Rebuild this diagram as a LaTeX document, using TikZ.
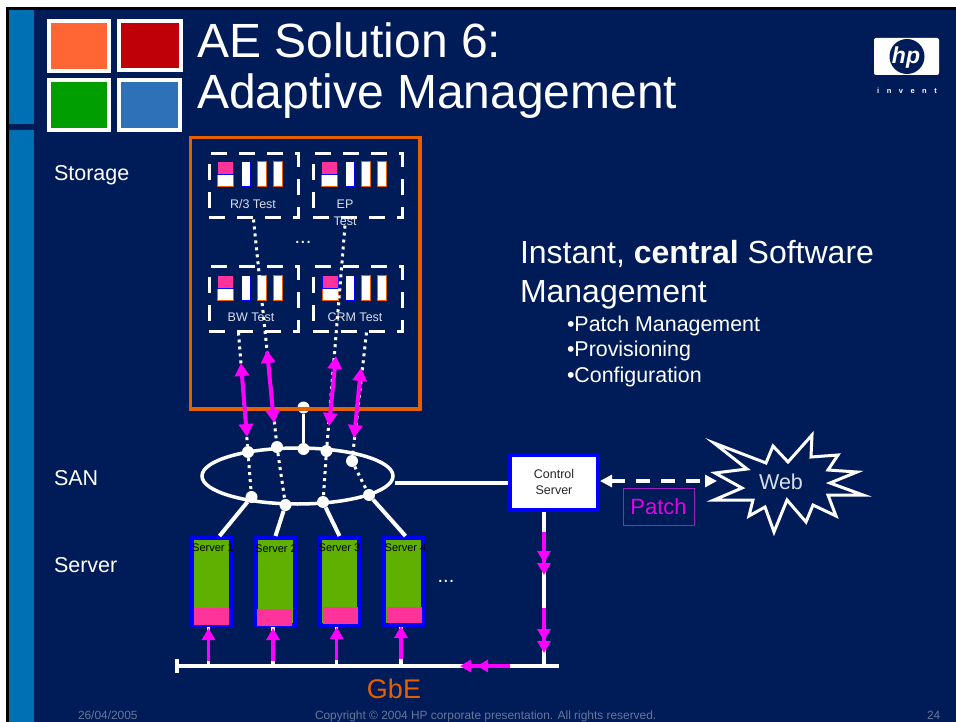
\documentclass[tikz,border=0pt]{standalone}
\usepackage{xcolor}
\usepackage{fontspec}
\setmainfont{Liberation Sans}
\usetikzlibrary{arrows.meta, shapes.geometric}
\definecolor{navy}{HTML}{001C58}
\definecolor{sidebar}{HTML}{0070B5}
\definecolor{hporange}{HTML}{E65F00}
\definecolor{mag}{HTML}{FF00FF}
\definecolor{pinkc}{HTML}{FF3399}
\definecolor{srvgreen}{HTML}{5FB000}
\definecolor{foot}{HTML}{65769A}
\definecolor{pale}{HTML}{D8DDE8}
\definecolor{sqorange}{HTML}{FF6633}
\definecolor{sqred}{HTML}{C00008}
\definecolor{sqgreen}{HTML}{009E00}
\definecolor{sqblue}{HTML}{2E71B8}
\definecolor{patchline}{HTML}{A01EBE}
\tikzset{
	txt/.style={inner sep=0pt, outer sep=0pt, anchor=base west, text=white},
	logo/.style={fill=#1, draw=white, line width=4pt, inner sep=0pt, outer sep=0pt},
	disk/.style={rectangle, draw=#1, fill=white, line width=1pt, inner sep=0pt, minimum width=9pt, minimum height=25pt},
	dashbox/.style={rectangle, draw=white, line width=3pt, dash pattern=on 16pt off 12pt, inner sep=0pt, minimum width=89pt, minimum height=64pt},
	dot/.style={circle, fill=white, inner sep=0pt, minimum size=#1},
	dotted line/.style={draw=white, line width=3pt, dash pattern=on 3pt off 4pt},
	wire/.style={draw=white, line width=3.5pt},
	srv/.style={rectangle, draw=blue, fill=srvgreen, line width=4pt, inner sep=0pt, minimum width=39pt, minimum height=87pt},
	pad/.style={rectangle, fill=pinkc, inner sep=0pt, minimum width=35pt, minimum height=16.5pt},
	both/.style={draw=mag, line width=4pt, {Triangle[length=13pt,width=14pt]}-{Triangle[length=13pt,width=14pt]}},
	up/.style={draw=mag, line width=3.5pt, -{Triangle[length=12pt,width=13pt]}},
	twice/.style={draw=mag, line width=4pt, -{Triangle[length=12pt,width=13pt,sep=0pt]Triangle[length=12pt,width=13pt]}},
	spaced/.style={draw=mag, line width=3.5pt, -{Triangle[length=11pt,width=12pt,sep=6pt]Triangle[length=11pt,width=12pt]}}
}
\newcommand{\fs}[1]{\fontsize{#1}{#1}\selectfont}
\newcommand{\diskrow}[5]{
	\fill[pinkc] (#3,#2) rectangle (#3+16,#2+13);
	\node[disk=hporange, minimum width=16pt, minimum height=12pt] (#1a) at (#3+8,#2+19) {};
	\draw[blue, line width=1pt] (#3,#2) rectangle (#3+16,#2+13);
	\node[disk=blue] (#1b) at (#4,#2+12.5) {};
	\node[disk=hporange] (#1c) at (#5,#2+12.5) {};
	\node[disk=hporange] (#1d) at (#5+16,#2+12.5) {};
}

\begin{document}
\begin{tikzpicture}[x=1pt, y=-1pt]
	\useasboundingbox (0,0) rectangle (956,722);
	\fill[white] (0,0) rectangle (956,722);
	\fill[black] (6,7) rectangle (956,722);
	\fill[navy] (9,10) rectangle (956,722);
	\fill[sidebar] (9,10) rectangle (34,124);
	\fill[sidebar] (9,130) rectangle (34,722);

	\draw[logo=sqorange] (48.5,21) rectangle (109,71);
	\draw[logo=sqred] (119,21) rectangle (181,70);
	\draw[logo=sqgreen] (49,80) rectangle (109,130);
	\draw[logo=sqblue] (119,80) rectangle (180,130);

	\node[txt, font=\fs{48}] (title1) at (197,58) {AE Solution 6:};
	\node[txt, font=\fs{48}] (title2) at (197,109) {Adaptive Management};

	\fill[white, rounded corners=2pt] (874,38) rectangle (939,75);
	\node[circle, fill=navy, minimum size=35pt, inner sep=0pt] (hpmark) at (907,56.5) {};
	\node[inner sep=0pt, text=white, font=\fs{23}\bfseries\itshape] (hp) at (906,58) {hp};
	\node[inner sep=0pt, text=white, font=\fs{7.5}\bfseries] (invent) at (907,91) {i\hspace{7.5pt}n\hspace{7.5pt}v\hspace{7.5pt}e\hspace{7.5pt}n\hspace{7.5pt}t};

	\node[txt, font=\fs{21.5}] (storage) at (54,181) {Storage};
	\node[txt, font=\fs{21.5}] (san) at (54,485) {SAN};
	\node[txt, font=\fs{21.5}] (server) at (54,572) {Server};

	\node[dashbox] (r3) at (253.5,186) {};
	\node[dashbox] (ep) at (357.5,186) {};
	\node[dashbox] (bw) at (253.5,299) {};
	\node[dashbox] (crm) at (357.5,299) {};

	\diskrow{r}{162}{217}{246}{261.5}
	\diskrow{e}{162}{321}{350}{366}
	\diskrow{b}{275}{217}{246}{261.5}
	\diskrow{c}{275}{322}{350}{366}

	\node[inner sep=0pt, text=pale, font=\fs{12.5}] (r3label) at (253,204) {R/3 Test};
	\node[inner sep=0pt, text=pale, font=\fs{12.5}] (eplabel1) at (345,204) {EP};
	\node[inner sep=0pt, text=pale, font=\fs{12.5}] (eplabel2) at (345,221) {Test};
	\node[inner sep=0pt, text=pale, font=\fs{12.5}] (bwlabel) at (251,317) {BW Test};
	\node[inner sep=0pt, text=pale, font=\fs{12.5}] (crmlabel) at (355,317) {CRM Test};
	\node[inner sep=0pt, text=white, font=\fs{20}] (more1) at (303,242) {...};

	\node[ellipse, draw=white, line width=3.5pt, inner sep=0pt, minimum width=191pt, minimum height=56pt] (ring) at (297.5,476) {};

	\node[dot=12pt] (hub) at (303.5,407.5) {};
	\node[dot=12pt] (t1) at (248,452) {};
	\node[dot=12pt] (t2) at (277,447) {};
	\node[dot=12pt] (t3) at (303.5,449) {};
	\node[dot=12pt] (t4) at (326.5,451) {};
	\node[dot=12pt] (t5) at (352,461) {};
	\node[dot=12pt] (b1) at (251.5,497) {};
	\node[dot=12pt] (b2) at (285.5,505) {};
	\node[dot=12pt] (b3) at (323,502) {};
	\node[dot=12pt] (b4) at (369,495) {};

	\draw[dotted line] (r3.south) -- (t2);
	\draw[dotted line] (eplabel2.south) -- (t4);
	\draw[dotted line] ([xshift=-15pt]bw.south) -- (t1);
	\draw[dotted line] ([xshift=9pt]crm.south) -- (t5);
	\draw[dotted line] (t1) -- (b1);
	\draw[dotted line] (t2) -- (b2);
	\draw[dotted line] (t4) -- (b3);
	\draw[dotted line] (t5) -- (b4);
	\draw[draw=white, line width=3pt] (hub) -- (t3);

	\draw[hporange, line width=3.5pt] (190.5,137.5) rectangle (420,409);

	\coordinate (a1s) at (241,363);
	\coordinate (a1e) at (247,437);
	\coordinate (a2s) at (267,350);
	\coordinate (a2e) at (274,423);
	\coordinate (a3s) at (336,356);
	\coordinate (a3e) at (329,426);
	\coordinate (a4s) at (361,368);
	\coordinate (a4e) at (354,438);
	\draw[both] (a1s) -- (a1e);
	\draw[both] (a2s) -- (a2e);
	\draw[both] (a3s) -- (a3e);
	\draw[both] (a4s) -- (a4e);

	\node[srv] (srv1) at (211.5,581.5) {};
	\node[srv] (srv2) at (275.5,581.5) {};
	\node[srv] (srv3) at (339.5,581.5) {};
	\node[srv] (srv4) at (403.5,581.5) {};
	\node[pad] (pad1) at (211.5,616.5) {};
	\node[pad] (pad2) at (274.5,617.5) {};
	\node[pad] (pad3) at (340.5,615.5) {};
	\node[pad] (pad4) at (404.5,615) {};
	\node[inner sep=0pt, text=black, font=\fs{11}] (srvlabel1) at (213,548) {Server 1};
	\node[inner sep=0pt, text=black, font=\fs{11}] (srvlabel2) at (276,549) {Server 2};
	\node[inner sep=0pt, text=black, font=\fs{11}] (srvlabel3) at (339.5,548) {Server 3};
	\node[inner sep=0pt, text=black, font=\fs{11}] (srvlabel4) at (405.5,548) {Server 4};
	\node[inner sep=0pt, text=white, font=\fs{20}] (more2) at (446,581) {...};

	\draw[draw=white, line width=4pt] (b1) -- ([xshift=8pt]srv1.north);
	\draw[draw=white, line width=4pt] (b2) -- (srv2.north);
	\draw[draw=white, line width=4pt] (b3) -- (srv3.north);
	\draw[draw=white, line width=4pt] (b4) -- ([xshift=2pt]srv4.north);

	\coordinate (busl) at (177,666);
	\coordinate (busr) at (559,666);
	\coordinate (tick1) at (177,659);
	\coordinate (tick2) at (177,673);
	\draw[wire] (busl) -- (busr);
	\draw[wire] (tick1) -- (tick2);

	\coordinate (tap1) at (208.5,666);
	\coordinate (tap2) at (273,666);
	\coordinate (tap3) at (336.7,666);
	\coordinate (tap4) at (401,666);
	\draw[wire] (tap1) -- (tap1 |- srv1.south);
	\draw[wire] (tap2) -- (tap2 |- srv2.south);
	\draw[wire] (tap3) -- (tap3 |- srv3.south);
	\draw[wire] (tap4) -- (tap4 |- srv4.south);
	\draw[up] (208.5,661) -- (208.5,628);
	\draw[up] (273,661) -- (273,628);
	\draw[up] (336.7,660) -- (336.7,627);
	\draw[up] (401,659) -- (401,626);

	\node[rectangle, draw=blue, fill=white, line width=4pt, inner sep=0pt, minimum width=88pt, minimum height=55pt, align=center, text=black!85, font=\fs{12.5}] (ctrl) at (554,482) {Control\\[3pt]Server};
	\draw[wire] ([yshift=-7pt]ring.east) -- ([yshift=-7pt]ring.east -| ctrl.west);

	\coordinate (drop) at (544,666);
	\draw[wire] (ctrl.south -| drop) -- (drop);
	\draw[twice] (544,532) -- (544,575);
	\draw[twice] (544,608) -- (544,653);
	\draw[spaced] (510,666) -- (460,666);

	\draw[draw=white, fill=navy, line width=3pt, miter limit=8] (714,443) -- (766,463) -- (773,446) -- (788,462) -- (812,435) -- (811,457) -- (838,455) -- (828,470) -- (857,472) -- (830,483) -- (863,495) -- (828,495) -- (836,516) -- (813,505) -- (806,522) -- (787,500) -- (774,532) -- (765,507) -- (749,516) -- (753,500) -- (714,500) -- (742,488) -- (715,473) -- (747,469) -- cycle;
	\node[inner sep=0pt, text=pale, font=\fs{21.5}] (web) at (781,482) {Web};
	\coordinate (webend) at (717,481);
	\draw[draw=white, line width=3.5pt, dash pattern=on 14pt off 11pt, {Triangle[length=12pt,width=12pt]}-{Triangle[length=12pt,width=12pt]}] (ctrl.east |- webend) -- (webend);

	\node[rectangle, draw=patchline, line width=1pt, inner sep=0pt, minimum width=71pt, minimum height=37pt, text=mag!90!black, font=\fs{22}] (patch) at (658.5,506.5) {Patch};

	\node[txt, font=\fs{32}] (inst1) at (520,264) {Instant, \textbf{central} Software};
	\node[txt, font=\fs{32}] (inst2) at (520,302) {Management};
	\node[txt, font=\fs{21.4}] (item1) at (567,331) {•Patch Management};
	\node[txt, font=\fs{21.4}] (item2) at (567,356) {•Provisioning};
	\node[txt, font=\fs{21.4}] (item3) at (567,382) {•Configuration};

	\node[inner sep=0pt, text=hporange, font=\fs{27}] (gbe) at (394,689) {GbE};

	\node[txt, text=foot, font=\fs{11.9}] (date) at (78,719) {26/04/2005};
	\node[txt, text=foot, font=\fs{11.9}] (copy) at (315,719) {Copyright © 2004 HP corporate presentation. All rights reserved.};
	\node[txt, text=foot, font=\fs{11.9}] (page) at (927,719) {24};
\end{tikzpicture}
\end{document}
